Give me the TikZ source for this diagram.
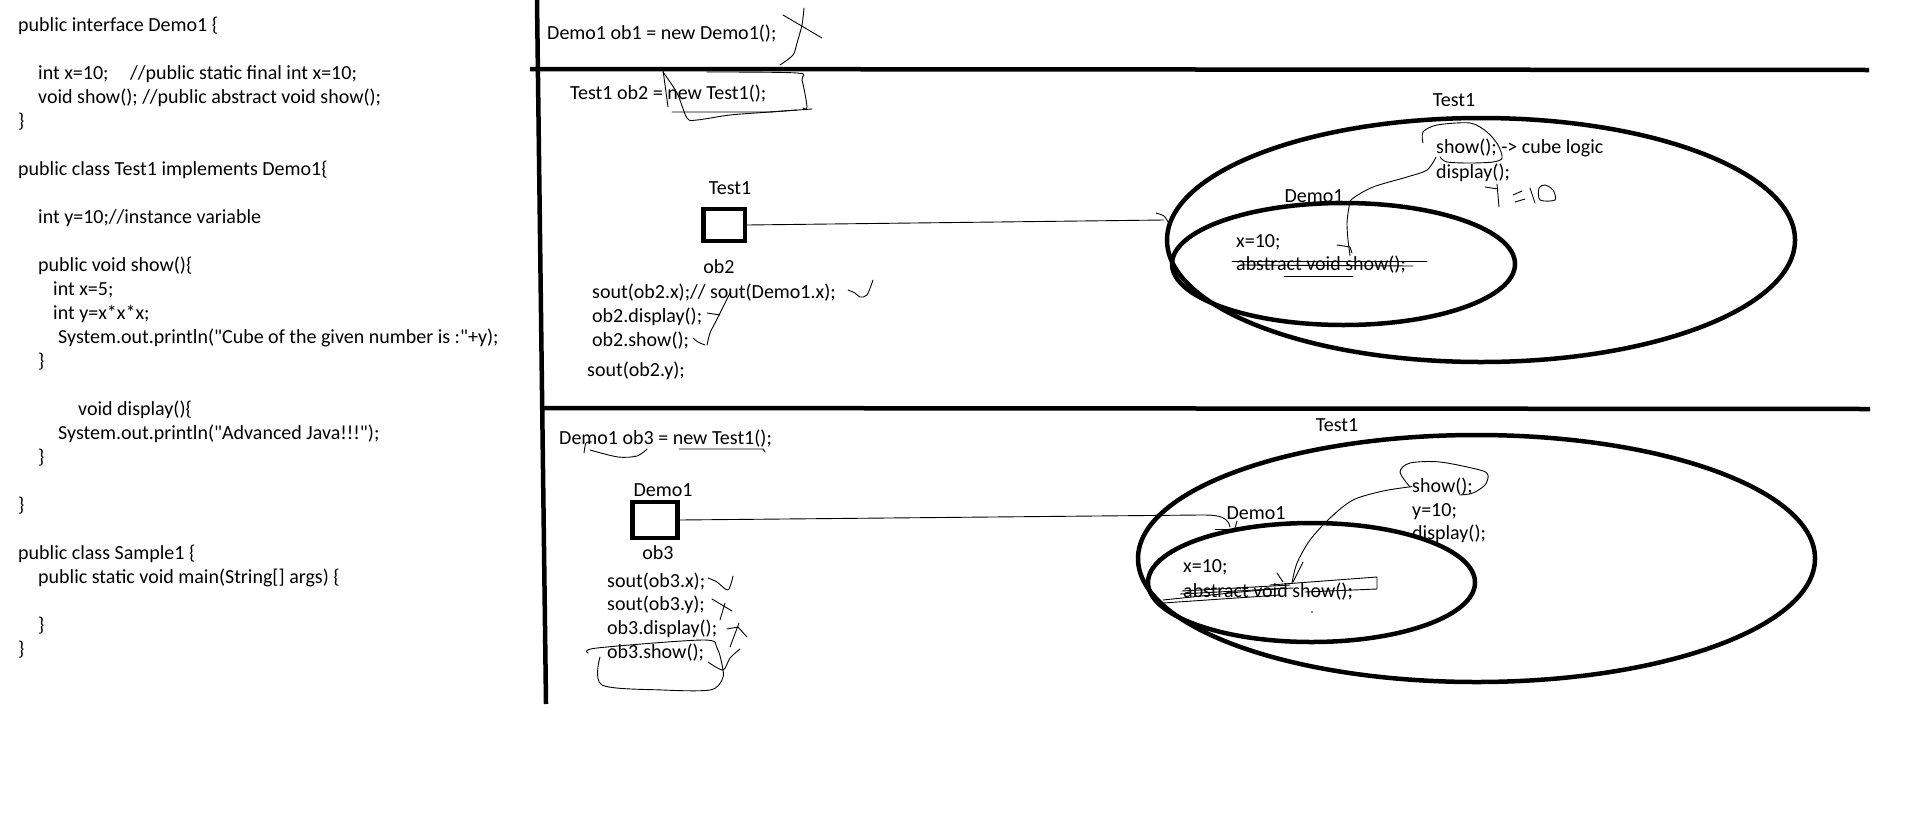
\documentclass[tikz,border=0pt]{standalone}
\usepackage{fontspec}
\setmainfont{Carlito}[Ligatures=TeXOff]
\usetikzlibrary{shapes.geometric}
\begin{document}
\begin{tikzpicture}[x=1pt,y=-1pt,
    txt/.style={anchor=base west,inner sep=0pt,font=\fontsize{20}{24}\selectfont},
    lbl/.style={anchor=base,inner sep=0pt,font=\fontsize{20}{24}\selectfont},
    wall/.style={line width=4.5pt},
    objbox/.style={draw,line width=4.5pt,inner sep=0pt},
    blob/.style={draw,ellipse,line width=4.5pt,inner sep=0pt},
    scribble/.style={line width=0.9pt,line join=round,line cap=round}]
  \useasboundingbox (0,0) rectangle (1913,825);
  % source code on the left
  \node[txt] (l1) at (18,31.5) {public interface Demo1 \{};
  \node[txt] (l2) at (38,79.5) {int x=10;\hspace{21.5pt}//public static final int x=10;};
  \node[txt] (l3) at (38,103.5) {void show(); //public abstract void show();};
  \node[txt] (l4) at (18,127.5) {\}};
  \node[txt] (l5) at (18,175.5) {public class Test1 implements Demo1\{};
  \node[txt] (l6) at (38,223.5) {int y=10;//instance variable};
  \node[txt] (l7) at (38,271.5) {public void show()\{};
  \node[txt] (l8) at (53,295.5) {int x=5;};
  \node[txt] (l9) at (53,319.5) {int y=x*x*x;};
  \node[txt] (l10) at (58,343.5) {System.out.println("Cube of the given number is :"+y);};
  \node[txt] (l11) at (38,367.5) {\}};
  \node[txt] (l12) at (78,415.5) {void display()\{};
  \node[txt] (l13) at (58,439.5) {System.out.println("Advanced Java!!!");};
  \node[txt] (l14) at (38,463.5) {\}};
  \node[txt] (l15) at (18,511.5) {\}};
  \node[txt] (l16) at (18,559.5) {public class Sample1 \{};
  \node[txt] (l17) at (38,583.5) {public static void main(String[] args) \{};
  \node[txt] (l18) at (38,631.5) {\}};
  \node[txt] (l19) at (18,655.5) {\}};
  % panel rules
  \draw[wall] (537,0) -- (546,704);
  \draw[wall] (530,69) -- (1869,70);
  \draw[wall] (543,408) -- (1870,409);
  % ob1
  \node[txt] (ob1) at (547,39.5) {Demo1 ob1 = new Demo1();};
  % ob2
  \node[txt] (ob2decl) at (570,99.5) {Test1 ob2 = new Test1();};
  \node[lbl] (ob2type) at (730,194.5) {Test1};
  \node[objbox,minimum width=41.5pt,minimum height=32pt] (ob2box) at (724,225) {};
  \node[lbl] (ob2name) at (719,273.5) {ob2};
  \node[txt] (ob2a) at (592,298.5) {sout(ob2.x);// sout(Demo1.x);};
  \node[txt] (ob2b) at (592,322.5) {ob2.display();};
  \node[txt] (ob2c) at (592,346.5) {ob2.show();};
  \node[txt] (ob2d) at (587,376.5) {sout(ob2.y);};
  \node[blob,minimum width=628pt,minimum height=244pt] (t1two) at (1481,240) {};
  \node[blob,minimum width=343pt,minimum height=122pt] (d1two) at (1343.5,264) {};
  \node[lbl] (t1twolbl) at (1454,106.5) {Test1};
  \node[lbl] (d1twolbl) at (1314,202.5) {Demo1};
  \node[txt] (show2) at (1436,153.5) {show(); -> cube logic};
  \node[txt] (disp2) at (1436,178.5) {display();};
  \node[txt] (x2) at (1236,247.5) {x=10;};
  \node[txt] (abs2) at (1236,270.5) {abstract void show();};
  \coordinate (end2) at (1164,220);
  \draw[scribble] (ob2box.east) -- (end2);
  \draw[scribble] plot[smooth] coordinates {(show2.south west) (1427,170) (1407,177) (1373,187) (1352,199) (1349,207) (1347,223) (1348,240) ([xshift=29pt]abs2.north)};
  % ob3
  \node[txt] (ob3decl) at (559,444.5) {Demo1 ob3 = new Test1();};
  \node[lbl] (ob3type) at (663,496.5) {Demo1};
  \node[objbox,minimum width=45pt,minimum height=36pt] (ob3box) at (655,520) {};
  \node[lbl] (ob3name) at (658,559.5) {ob3};
  \node[txt] (ob3a) at (607,587.5) {sout(ob3.x);};
  \node[txt] (ob3b) at (607,610.5) {sout(ob3.y);};
  \node[txt] (ob3c) at (607,634.5) {ob3.display();};
  \node[txt] (ob3d) at (607,658.5) {ob3.show();};
  \node[blob,minimum width=677pt,minimum height=247pt] (t1three) at (1476.5,558.5) {};
  \node[blob,minimum width=327pt,minimum height=119pt] (d1three) at (1311.5,582.5) {};
  \node[lbl] (t1threelbl) at (1337,431.5) {Test1};
  \node[lbl] (d1threelbl) at (1256,519.5) {Demo1};
  \node[txt] (show3) at (1412,492.5) {show();};
  \node[txt] (y3) at (1412,516.5) {y=10;};
  \node[txt] (disp3) at (1412,539.5) {display();};
  \node[txt] (x3) at (1183,572.5) {x=10;};
  \node[txt] (abs3) at (1183,597.5) {abstract void show();};
  \coordinate (end3) at (1230,527);
  \draw[scribble] (ob3box.east) -- (1200,515) to[out=0,in=100] (end3);
  \draw[scribble] plot[smooth] coordinates {(show3.west) (1383,491) (1353,500) (1330,518) (1310,540) (1297,563) ([xshift=24pt]abs3.north)};
  % hand marks
  \begin{scope}[scribble]
    \draw (783,15) -- (822,38);
    \draw plot[smooth] coordinates {(804,8) (802,25) (797,43) (793,55) (780,65)};
    \draw (663,70) -- (668,107);
    \draw plot[smooth] coordinates {(663,72) (677,93) (687,118) (697,120) (730,115) (770,112) (797,110)};
    \draw (672,112) -- (770,112) -- (812,109);
    \draw plot[smooth] coordinates {(707,72) (797,73) (802,80) (807,107) (803,108)};
    \draw plot[smooth] coordinates {(848,290) (855,293) (860,297) (867,295) (873,280)};
    \draw (707,313) -- (720,315);
    \draw plot[smooth] coordinates {(730,293) (723,307) (715,323) (710,333) (707,345)};
    \draw plot[smooth] coordinates {(693,338) (698,342) (705,345)};
    \draw plot[smooth] coordinates {(1156,213) (1164,216) (1168,222)};
    \draw plot[smooth] coordinates {(1423,143) (1423,132) (1437,125) (1470,123) (1487,132) (1498,145) (1502,158) (1493,162) (1470,163) (1447,162) (1440,157)};
    \draw (1337,245) -- (1350,247) -- (1352,253);
    \draw (1485,187) -- (1498,189);
    \draw (1497,184) -- (1499,207);
    \draw (1513,195) -- (1522,191);
    \draw (1515,202) -- (1525,199);
    \draw (1530,188) -- (1535,203);
    \draw plot[smooth cycle] coordinates {(1540,200) (1539,188) (1545,185) (1553,190) (1555,200)};
    \draw (1232,261) -- (1427,261);
    \draw (1240,265) -- (1413,266);
    \draw (1284,276) -- (1353,276);
    \draw plot[smooth] coordinates {(584,453) (586,443) (592,442)};
    \draw plot[smooth] coordinates {(590,450) (618,457) (637,456) (647,449)};
    \draw (679,449) -- (763,449) -- (765,452);
    \draw plot[smooth] coordinates {(708,578) (717,582) (728,590) (733,576)};
    \draw (712,599) -- (732,611);
    \draw (725,603) -- (720,620);
    \draw (727,629) -- (738,627) -- (747,637);
    \draw (739,623) -- (730,647);
    \draw plot[smooth] coordinates {(588,653) (597,648) (703,640) (717,648) (723,670) (722,680) (710,690) (663,690) (602,685) (600,657)};
    \draw plot[smooth] coordinates {(708,662) (723,670) (730,658) (740,649)};
    \draw (1215,529) -- (1230,529);
    \draw (1237,521) -- (1235,528);
    \draw plot[smooth] coordinates {(1410,487) (1400,472) (1410,463) (1440,462) (1480,470) (1488,475) (1485,485) (1473,493) (1460,495)};
    \draw (1277,573) -- (1283,582);
    \draw (1303,562) -- (1293,582);
    \draw (1180,594) -- (1293,588);
    \draw (1182,591) -- (1290,585);
    \draw (1270,585) -- (1377,577) -- (1377,589) -- (1305,592);
    \draw (1163,600) -- (1240,592) -- (1285,588);
    \draw (1163,603) -- (1280,595);
    \fill (1312,612) circle (0.8);
  \end{scope}
\end{tikzpicture}
\end{document}
